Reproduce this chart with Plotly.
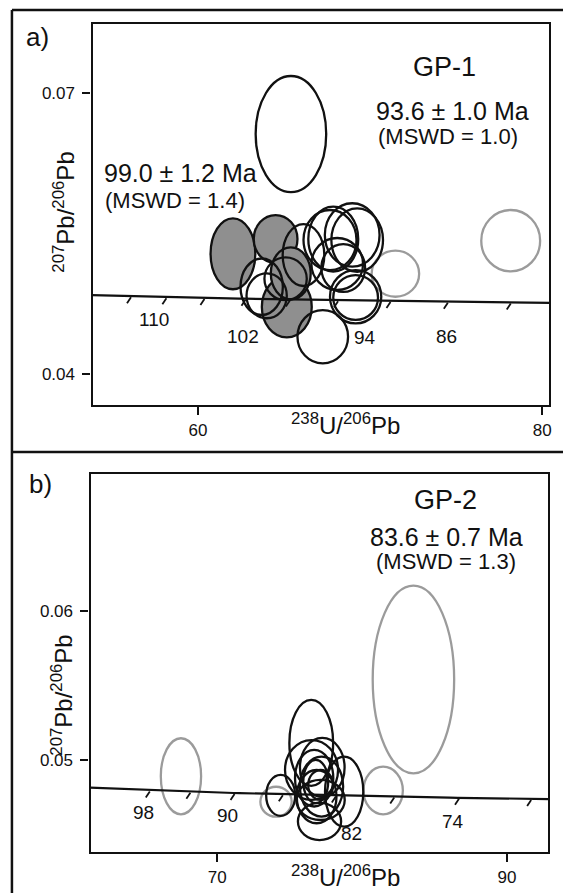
import numpy as np
import plotly.graph_objects as go

W, H = 566, 893

# decay constants for Tera-Wasserburg concordia
L238 = 1.55125e-10
L235 = 9.8485e-10
U85 = 137.88

# ---------------- Panel a (GP-1) ----------------
# filled grey ellipses: centre x, centre y, semi-axis x, semi-axis y
a_fill_x = [62.03, 64.51, 65.16, 65.39]
a_fill_y = [0.05285, 0.05443, 0.04716, 0.05076]
a_fill_rx = [1.30, 1.27, 1.45, 1.16]
a_fill_ry = [0.00379, 0.00256, 0.00324, 0.00278]

# open black ellipses
a_open_x = [63.70, 63.99, 65.09, 66.13, 67.67, 67.86, 69.25, 68.96, 68.09, 68.44, 69.16, 69.16, 67.25, 65.40]
a_open_y = [0.04933, 0.04836, 0.05018, 0.05272, 0.05432, 0.05443, 0.05432, 0.05486, 0.05176, 0.05133,
            0.04826, 0.04818, 0.04399, 0.06565]
a_open_rx = [1.23, 1.17, 1.23, 1.21, 1.54, 1.45, 1.50, 1.59, 1.50, 1.27, 1.49, 1.30, 1.47, 2.05]
a_open_ry = [0.00302, 0.0024, 0.00228, 0.00331, 0.00321, 0.00347, 0.00339, 0.00339, 0.00278, 0.00256,
             0.00285, 0.0024, 0.00285, 0.0062]

# grey (excluded) ellipses
a_grey_x = [71.47, 78.17]
a_grey_y = [0.05072, 0.05425]
a_grey_rx = [1.38, 1.71]
a_grey_ry = [0.00246, 0.00328]

a_tick_ages = [114, 110, 106, 102, 98, 94, 90, 86, 82]
a_xticks = [60, 80]
a_yticks = [0.04, 0.07]
a_yticktext = ["0.04", "0.07"]

# ---------------- Panel b (GP-2) ----------------
b_open_x = [76.49, 76.51, 77.25, 78.76, 74.38, 76.69, 76.86, 77.06, 77.20, 76.80, 77.14, 77.13]
b_open_y = [0.05116, 0.04935, 0.04952, 0.04790, 0.04765, 0.04880, 0.04757, 0.04591, 0.04824, 0.04858,
            0.04835, 0.04735]
b_open_rx = [1.51, 1.83, 1.54, 1.32, 1.00, 1.32, 1.37, 1.49, 1.49, 0.86, 0.86, 1.67]
b_open_ry = [0.00287, 0.00200, 0.00197, 0.00234, 0.00137, 0.00189, 0.00178, 0.00124, 0.00200, 0.00144,
             0.00100, 0.00134]

b_grey_x = [83.54, 67.50, 81.45, 74.06]
b_grey_y = [0.05540, 0.04893, 0.04798, 0.04723]
b_grey_rx = [2.81, 1.39, 1.36, 1.08]
b_grey_ry = [0.00627, 0.00254, 0.00159, 0.00100]

b_tick_ages = [98, 94, 90, 86, 82, 78, 74, 70]
b_xticks = [70, 90]
b_yticks = [0.05, 0.06]
b_yticktext = ["0.05", "0.06"]

# concordia ages (Ma)
conc_ages = np.arange(60.0, 130.5, 0.5)


def tw(t_ma):
    t = np.asarray(t_ma, dtype=float) * 1e6
    e8 = np.exp(L238 * t) - 1.0
    e5 = np.exp(L235 * t) - 1.0
    return 1.0 / e8, e5 / e8 / U85


def P(px, py):
    return px / W, 1 - py / H


FONT = "Liberation Sans, Arial, Helvetica, sans-serif"
BLACK = "#111111"
GREYLINE = "#9b9b9b"
GREYFILL = "#8f8f8f"

fig = go.Figure()

shapes = []


def add_ellipses(xs, ys, rxs, rys, xref, yref, line_color, fill):
    for cx, cy, rx, ry in zip(xs, ys, rxs, rys):
        shapes.append(dict(type="circle", xref=xref, yref=yref, layer="below",
                           x0=cx - rx, x1=cx + rx, y0=cy - ry, y1=cy + ry,
                           line=dict(color=line_color, width=2.3),
                           fillcolor=fill))


add_ellipses(a_fill_x, a_fill_y, a_fill_rx, a_fill_ry, "x", "y", BLACK, GREYFILL)
add_ellipses(a_grey_x, a_grey_y, a_grey_rx, a_grey_ry, "x", "y", GREYLINE, "rgba(0,0,0,0)")
add_ellipses(a_open_x, a_open_y, a_open_rx, a_open_ry, "x", "y", BLACK, "rgba(0,0,0,0)")
add_ellipses(b_grey_x, b_grey_y, b_grey_rx, b_grey_ry, "x2", "y2", GREYLINE, "rgba(0,0,0,0)")
add_ellipses(b_open_x, b_open_y, b_open_rx, b_open_ry, "x2", "y2", BLACK, "rgba(0,0,0,0)")

# concordia curves
cx_, cy_ = tw(conc_ages)
fig.add_trace(go.Scatter(x=cx_, y=cy_, mode="lines", line=dict(color=BLACK, width=2.2),
                         xaxis="x", yaxis="y", hoverinfo="skip", showlegend=False))
fig.add_trace(go.Scatter(x=cx_, y=cy_, mode="lines", line=dict(color=BLACK, width=2.2),
                         xaxis="x2", yaxis="y2", hoverinfo="skip", showlegend=False))

# concordia age ticks
for ages, xr, yr in [(a_tick_ages, "x", "y"), (b_tick_ages, "x2", "y2")]:
    tx, ty = tw(ages)
    for x_, y_ in zip(tx, ty):
        shapes.append(dict(type="line", xref=xr, yref=yr, xsizemode="pixel", ysizemode="pixel",
                           xanchor=x_, yanchor=y_, x0=1, y0=-1, x1=-3, y1=-7,
                           line=dict(color=BLACK, width=1.8), layer="above"))

# outer frame lines
for (x0, y0, x1, y1) in [(12, 10, 12, 893), (12, 10, 566, 10), (12, 452, 566, 452)]:
    a0 = P(x0, y0)
    a1 = P(x1, y1)
    shapes.append(dict(type="line", xref="paper", yref="paper", x0=a0[0], y0=a0[1],
                       x1=a1[0], y1=a1[1], line=dict(color=BLACK, width=2.5)))

annotations = []


def txt(s, px, py, size, angle=0):
    x, y = P(px, py)
    annotations.append(dict(text=s, x=x, y=y, xref="paper", yref="paper", showarrow=False,
                            xanchor="center", yanchor="middle", textangle=angle,
                            font=dict(size=size, color=BLACK, family=FONT)))


YT = "<sup>207</sup>Pb/<sup>206</sup>Pb"
XT = "<sup>238</sup>U/<sup>206</sup>Pb"

# panel a texts
txt("a)", 38, 37, 26)
txt("GP-1", 447, 67, 27)
txt("93.6 ± 1.0 Ma", 455, 111, 25)
txt("(MSWD = 1.0)", 450, 136, 22)
txt("99.0 ± 1.2 Ma", 181, 173, 25)
txt("(MSWD = 1.4)", 176, 200, 22)
txt("110", 155, 319, 19)
txt("102", 244, 336, 19)
txt("94", 367, 337, 19)
txt("86", 449, 336, 19)
txt(YT, 64, 212, 24, -90)
txt(XT, 347, 424, 24)

# panel b texts
txt("b)", 41, 484, 26)
txt("GP-2", 448, 500, 27)
txt("83.6 ± 0.7 Ma", 449, 537, 25)
txt("(MSWD = 1.3)", 448, 561, 22)
txt("98", 144, 812, 19)
txt("90", 229, 815, 19)
txt("82", 353, 833, 19)
txt("74", 455, 821, 19)
txt(YT, 62, 695, 24, -90)
txt(XT, 347, 876, 24)

axis_common = dict(showline=True, mirror=True, linecolor=BLACK, linewidth=2.2,
                   ticks="outside", ticklen=8, tickwidth=2.2, tickcolor=BLACK,
                   showgrid=False, zeroline=False,
                   tickfont=dict(size=17, color=BLACK, family=FONT))

fig.update_layout(
    width=W, height=H,
    margin=dict(l=0, r=0, t=0, b=0),
    paper_bgcolor="white", plot_bgcolor="white",
    showlegend=False,
    xaxis=dict(domain=[93 / W, 552 / W], range=[53.87, 80.4], anchor="y",
               tickvals=a_xticks, ticktext=[str(v) for v in a_xticks], **axis_common),
    yaxis=dict(domain=[1 - 405 / H, 1 - 24 / H], range=[0.03669, 0.07741], anchor="x",
               tickvals=a_yticks, ticktext=a_yticktext, ticklabelstandoff=4, **axis_common),
    xaxis2=dict(domain=[91 / W, 551 / W], range=[61.26, 92.83], anchor="y2",
                tickvals=b_xticks, ticktext=[str(v) for v in b_xticks], **axis_common),
    yaxis2=dict(domain=[1 - 852 / H, 1 - 474 / H], range=[0.04387, 0.06913], anchor="x2",
                tickvals=b_yticks, ticktext=b_yticktext, ticklabelstandoff=4, **axis_common),
    shapes=shapes,
    annotations=annotations,
)

fig.write_html("out.html")
